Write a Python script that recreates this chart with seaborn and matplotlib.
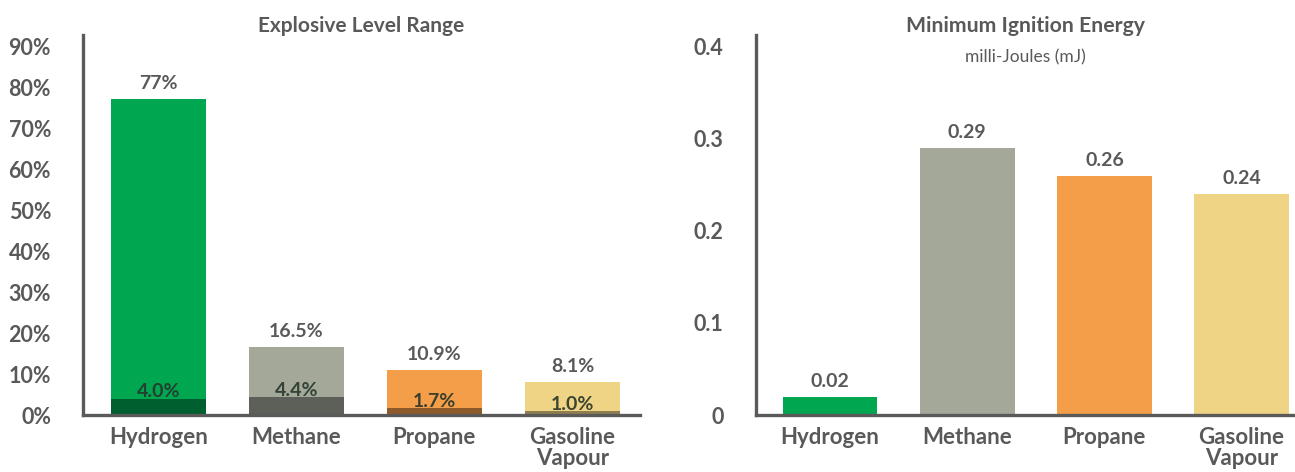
import matplotlib
matplotlib.use("Agg")
import matplotlib.pyplot as plt
from matplotlib import font_manager
import seaborn as sns

# Data
categories = ["Hydrogen", "Methane", "Propane", "Gasoline\nVapour"]
upper_limit = [77.0, 16.5, 10.9, 8.1]        # % upper explosive level
lower_limit = [4.0, 4.4, 1.7, 1.0]           # % lower explosive level
ignition_energy = [0.02, 0.29, 0.26, 0.24]   # mJ
upper_labels = ["77%", "16.5%", "10.9%", "8.1%"]
lower_labels = ["4.0%", "4.4%", "1.7%", "1.0%"]
energy_labels = ["0.02", "0.29", "0.26", "0.24"]
left_ticks = [0, 10, 20, 30, 40, 50, 60, 70, 80, 90]
left_ticklabels = [f"{t}%" for t in left_ticks]
right_ticks = [0, 0.1, 0.2, 0.3, 0.4]
right_ticklabels = ["0", "0.1", "0.2", "0.3", "0.4"]

main_colors = ["#00a650", "#a3a899", "#f59e4a", "#f0d485"]
dark_colors = ["#005f2e", "#5c6058", "#8f5a2b", "#8e7d4f"]

sns.set_theme(style="white")
available = {f.name for f in font_manager.fontManager.ttflist}
family = next((f for f in ["Lato", "Open Sans"] if f in available), "DejaVu Sans")
plt.rcParams["font.family"] = [family, "DejaVu Sans"]

TEXT = "#595959"
SPINE = "#5a5a5a"

fig = plt.figure(figsize=(12.95, 4.72), dpi=100)
axL = fig.add_axes([83 / 1295, 57 / 472, 557 / 1295, 380 / 472])
axR = fig.add_axes([755.5 / 1295, 57 / 472, 539.5 / 1295, 380 / 472])


def style_axis(ax):
    sns.despine(ax=ax, top=True, right=True)
    for side in ("left", "bottom"):
        ax.spines[side].set_color(SPINE)
        ax.spines[side].set_linewidth(2.4)
        ax.spines[side].set_zorder(5)
    ax.tick_params(axis="both", length=0)
    ax.tick_params(axis="y", pad=23)
    ax.tick_params(axis="x", pad=9)
    ax.set_xlabel("")
    ax.set_ylabel("")
    ax.grid(False)


bar_kw = dict(legend=False, width=0.69, saturation=1, edgecolor="none", linewidth=0)

# Left panel: explosive range
sns.barplot(x=categories, y=upper_limit, hue=categories, palette=main_colors, ax=axL, **bar_kw)
sns.barplot(x=categories, y=lower_limit, hue=categories, palette=dark_colors, ax=axL, **bar_kw)
axL.set_xlim(-0.547, 3.49)
axL.set_ylim(0, 92.7)
axL.set_yticks(left_ticks)
axL.set_yticklabels(left_ticklabels)
style_axis(axL)
for i, (u, lo) in enumerate(zip(upper_limit, lower_limit)):
    axL.annotate(upper_labels[i], (i, u), xytext=(0, 5), textcoords="offset points",
                 ha="center", va="bottom", fontsize=14, fontweight="bold", color=TEXT)
    axL.annotate(lower_labels[i], (i, lo), xytext=(0, 1), textcoords="offset points",
                 ha="center", va="baseline", fontsize=14, fontweight="bold",
                 color="#27362b", alpha=0.9, zorder=6)
axL.set_title("Explosive Level Range", fontsize=15, fontweight="bold", color=TEXT, pad=2)

# Right panel: minimum ignition energy
sns.barplot(x=categories, y=ignition_energy, hue=categories, palette=main_colors, ax=axR, **bar_kw)
axR.set_xlim(-0.544, 3.39)
axR.set_ylim(0, 0.4126)
axR.set_yticks(right_ticks)
axR.set_yticklabels(right_ticklabels)
style_axis(axR)
for i, v in enumerate(ignition_energy):
    axR.annotate(energy_labels[i], (i, v), xytext=(0, 5), textcoords="offset points",
                 ha="center", va="bottom", fontsize=14, fontweight="bold", color=TEXT)
axR.set_title("Minimum Ignition Energy", fontsize=15.3, fontweight="bold", color=TEXT, pad=2)
axR.text(0.5, 0.94, "milli-Joules (mJ)", transform=axR.transAxes, ha="center", va="center",
         fontsize=12.5, color=TEXT)

for ax in (axL, axR):
    for lab in ax.get_yticklabels():
        lab.set_fontsize(15.5)
        lab.set_fontweight("bold")
        lab.set_color(TEXT)
    for lab in ax.get_xticklabels():
        lab.set_fontsize(16)
        lab.set_fontweight("bold")
        lab.set_color(TEXT)
        lab.set_linespacing(0.95)

fig.savefig("out.png", dpi=100)
